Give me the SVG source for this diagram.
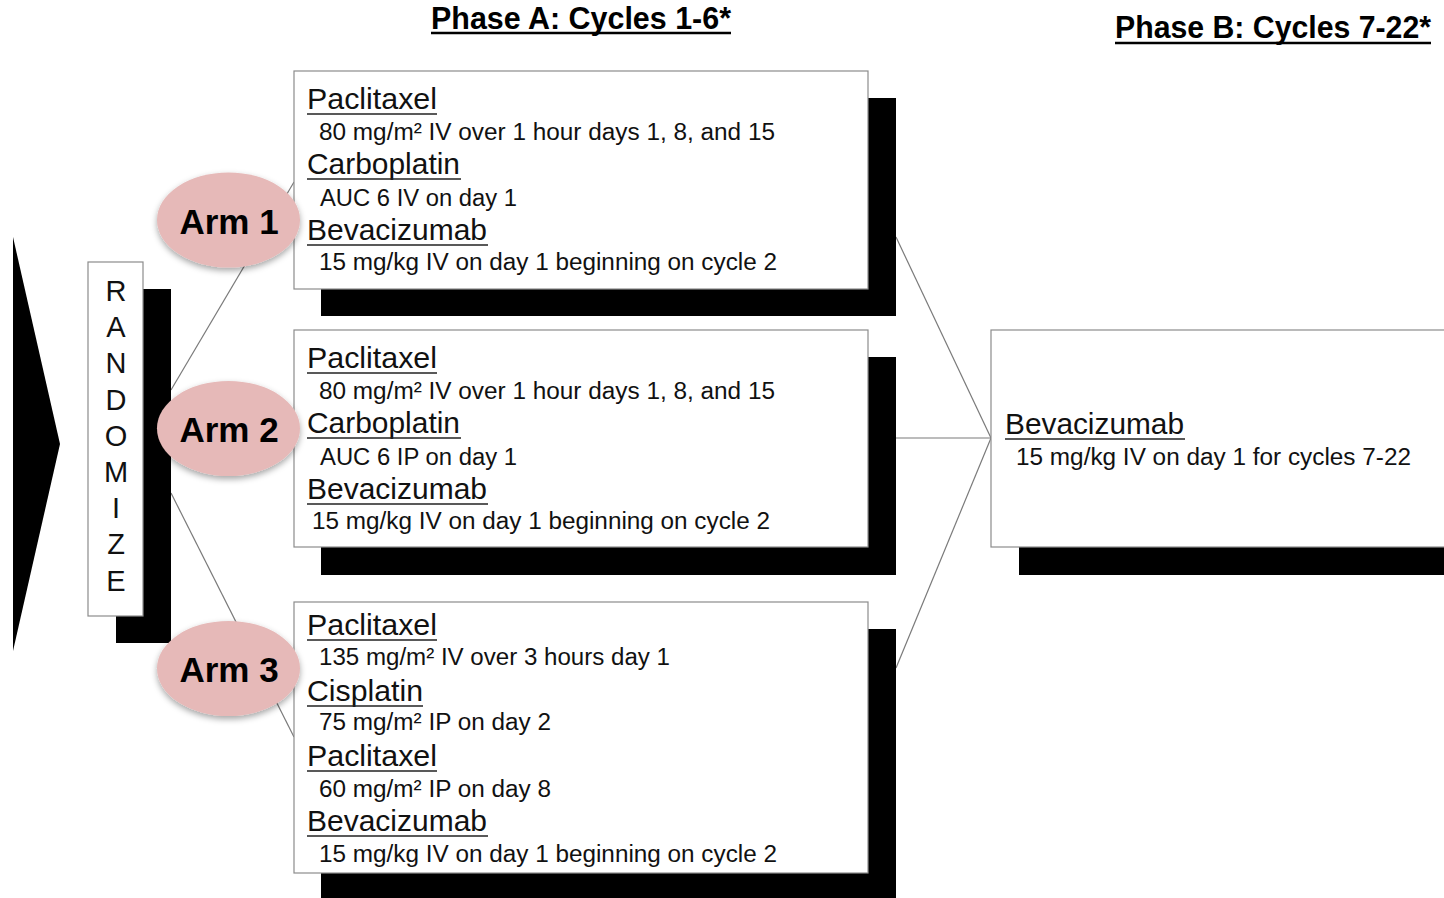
<svg xmlns="http://www.w3.org/2000/svg" width="1444" height="898" viewBox="0 0 1444 898">
<style>
.box{fill:#fff;stroke:#8c8c8c;stroke-width:1.2}
.shadow{fill:#000}
.conn{stroke:#7a7a7a;stroke-width:1.2;fill:none}
.hd{font-family:"Liberation Sans",Arial,sans-serif;font-size:30px;fill:#111}
.sub{font-family:"Liberation Sans",Arial,sans-serif;font-size:23.5px;fill:#111}
.ul{stroke:#222;stroke-width:1.6}
.title{font-family:"Liberation Sans",Arial,sans-serif;font-size:31px;font-weight:bold;fill:#000}
.tul{stroke:#000;stroke-width:2.5}
.arm{fill:#e6b9b8}
.armt{font-family:"Liberation Sans",Arial,sans-serif;font-size:35px;font-weight:bold;fill:#000;text-anchor:middle}
.rnd{font-family:"Liberation Sans",Arial,sans-serif;font-size:29px;fill:#111;text-anchor:middle}
</style>
<defs>
<filter id="ds" x="-20%" y="-20%" width="140%" height="150%">
<feDropShadow dx="0" dy="3" stdDeviation="3" flood-color="#000" flood-opacity="0.35"/>
</filter>
</defs>
<rect width="1444" height="898" fill="#fff"/>

<g id="titles">
<text class="title" x="431" y="29" textLength="300" lengthAdjust="spacingAndGlyphs">Phase A: Cycles 1-6*</text>
<line class="tul" x1="431" y1="33" x2="731" y2="33"/>
<text class="title" x="1115" y="38" textLength="316" lengthAdjust="spacingAndGlyphs">Phase B: Cycles 7-22*</text>
<line class="tul" x1="1115" y1="43" x2="1431" y2="43"/>
</g>

<g id="connectors">
<line class="conn" x1="171" y1="390" x2="294" y2="182"/>
<line class="conn" x1="171" y1="440" x2="294" y2="440"/>
<line class="conn" x1="171" y1="493" x2="294" y2="737"/>
<line class="conn" x1="896" y1="237" x2="991" y2="438"/>
<line class="conn" x1="896" y1="438" x2="991" y2="438"/>
<line class="conn" x1="896" y1="668" x2="991" y2="438"/>
</g>

<g id="arrow">
<polygon points="13,237 60,444 13,651" fill="#000"/>
</g>

<g id="randomize">
<rect class="shadow" x="116" y="289" width="55" height="354"/>
<rect class="box" x="88" y="262" width="55" height="354"/>
<text class="rnd" x="116" y="301">R<tspan x="116" dy="36.2">A</tspan><tspan x="116" dy="36.2">N</tspan><tspan x="116" dy="36.2">D</tspan><tspan x="116" dy="36.2">O</tspan><tspan x="116" dy="36.2">M</tspan><tspan x="116" dy="36.2">I</tspan><tspan x="116" dy="36.2">Z</tspan><tspan x="116" dy="36.2">E</tspan></text>
</g>

<g id="box1">
<rect class="shadow" x="321" y="98" width="575" height="218"/>
<rect class="box" x="294" y="71" width="574" height="218"/>
<text class="hd" x="307" y="109" textLength="130" lengthAdjust="spacingAndGlyphs">Paclitaxel</text>
<line class="ul" x1="307" y1="114" x2="437" y2="114"/>
<text class="sub" x="319" y="140" textLength="456" lengthAdjust="spacingAndGlyphs">80 mg/m² IV over 1 hour days 1, 8, and 15</text>
<text class="hd" x="307" y="174" textLength="153" lengthAdjust="spacingAndGlyphs">Carboplatin</text>
<line class="ul" x1="307" y1="179" x2="461" y2="179"/>
<text class="sub" x="320" y="206" textLength="197" lengthAdjust="spacingAndGlyphs">AUC 6 IV on day 1</text>
<text class="hd" x="307" y="240" textLength="180" lengthAdjust="spacingAndGlyphs">Bevacizumab</text>
<line class="ul" x1="307" y1="245" x2="488" y2="245"/>
<text class="sub" x="319" y="270" textLength="458" lengthAdjust="spacingAndGlyphs">15 mg/kg IV on day 1 beginning on cycle  2</text>
</g>

<g id="box2">
<rect class="shadow" x="321" y="357" width="575" height="218"/>
<rect class="box" x="294" y="330" width="574" height="217"/>
<text class="hd" x="307" y="368" textLength="130" lengthAdjust="spacingAndGlyphs">Paclitaxel</text>
<line class="ul" x1="307" y1="373" x2="437" y2="373"/>
<text class="sub" x="319" y="399" textLength="456" lengthAdjust="spacingAndGlyphs">80 mg/m² IV over 1 hour days 1, 8, and 15</text>
<text class="hd" x="307" y="433" textLength="153" lengthAdjust="spacingAndGlyphs">Carboplatin</text>
<line class="ul" x1="307" y1="438" x2="461" y2="438"/>
<text class="sub" x="320" y="465" textLength="197" lengthAdjust="spacingAndGlyphs">AUC 6 IP on day 1</text>
<text class="hd" x="307" y="499" textLength="180" lengthAdjust="spacingAndGlyphs">Bevacizumab</text>
<line class="ul" x1="307" y1="504" x2="488" y2="504"/>
<text class="sub" x="312" y="529" textLength="458" lengthAdjust="spacingAndGlyphs">15 mg/kg IV on day 1 beginning on cycle  2</text>
</g>

<g id="box3">
<rect class="shadow" x="321" y="629" width="575" height="280"/>
<rect class="box" x="294" y="602" width="574" height="271"/>
<text class="hd" x="307" y="635" textLength="130" lengthAdjust="spacingAndGlyphs">Paclitaxel</text>
<line class="ul" x1="307" y1="640" x2="437" y2="640"/>
<text class="sub" x="319" y="665" textLength="351" lengthAdjust="spacingAndGlyphs">135 mg/m² IV over 3 hours day 1</text>
<text class="hd" x="307" y="701" textLength="116" lengthAdjust="spacingAndGlyphs">Cisplatin</text>
<line class="ul" x1="307" y1="706" x2="423" y2="706"/>
<text class="sub" x="319" y="730" textLength="232" lengthAdjust="spacingAndGlyphs">75 mg/m² IP  on day 2</text>
<text class="hd" x="307" y="766" textLength="130" lengthAdjust="spacingAndGlyphs">Paclitaxel</text>
<line class="ul" x1="307" y1="771" x2="437" y2="771"/>
<text class="sub" x="319" y="797" textLength="232" lengthAdjust="spacingAndGlyphs">60 mg/m² IP  on day 8</text>
<text class="hd" x="307" y="831" textLength="180" lengthAdjust="spacingAndGlyphs">Bevacizumab</text>
<line class="ul" x1="307" y1="836" x2="488" y2="836"/>
<text class="sub" x="319" y="862" textLength="458" lengthAdjust="spacingAndGlyphs">15 mg/kg IV on day 1 beginning on cycle  2</text>
</g>

<g id="phaseB">
<rect class="shadow" x="1019" y="357" width="440" height="218"/>
<rect class="box" x="991" y="330" width="470" height="217"/>
<text class="hd" x="1005" y="434" textLength="179" lengthAdjust="spacingAndGlyphs">Bevacizumab</text>
<line class="ul" x1="1005" y1="439" x2="1185" y2="439"/>
<text class="sub" x="1016" y="465" textLength="395" lengthAdjust="spacingAndGlyphs">15 mg/kg IV on day 1 for cycles 7-22</text>
</g>

<g id="arm1">
<ellipse class="arm" cx="228.5" cy="220" rx="71.5" ry="47.5" filter="url(#ds)"/>
<text class="armt" x="229" y="234">Arm 1</text>
</g>
<g id="arm2">
<ellipse class="arm" cx="228.5" cy="428.5" rx="71.5" ry="47.5" filter="url(#ds)"/>
<text class="armt" x="229" y="442">Arm 2</text>
</g>
<g id="arm3">
<ellipse class="arm" cx="228.5" cy="668.5" rx="71.5" ry="47.5" filter="url(#ds)"/>
<text class="armt" x="229" y="682">Arm 3</text>
</g>
</svg>
